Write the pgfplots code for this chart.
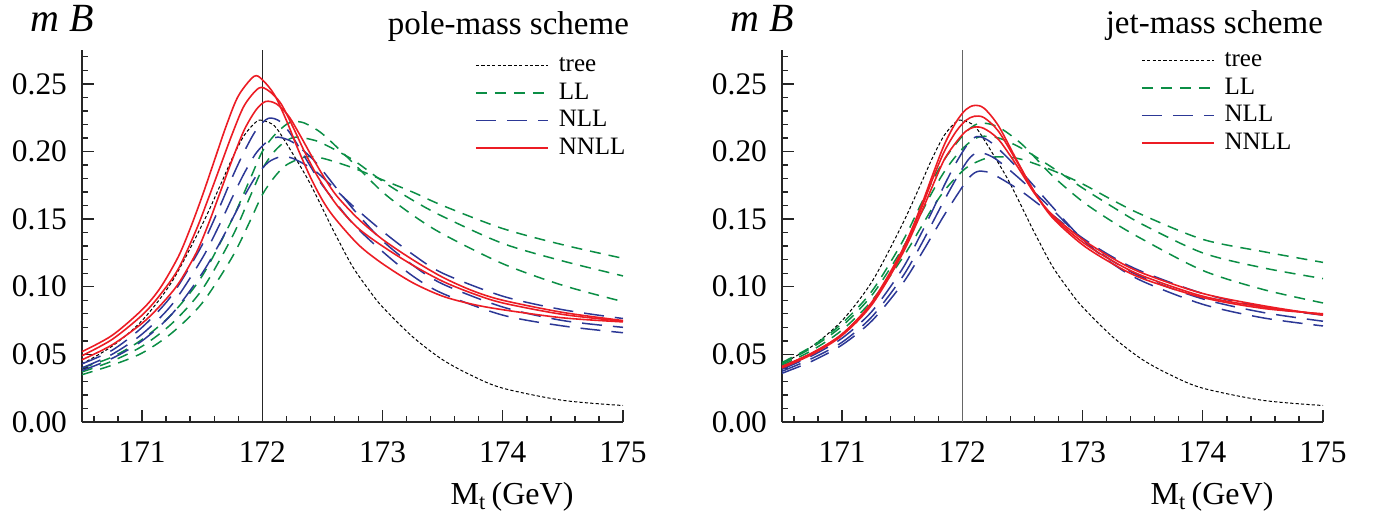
\documentclass[border=0pt]{standalone}
\usepackage{fontspec}
\setmainfont{Liberation Serif}
\usepackage{pgfplots}
\pgfplotsset{compat=1.18}

\definecolor{llgreen}{HTML}{0B8E45}
\definecolor{nllblue}{HTML}{2C3896}
\definecolor{nnllred}{HTML}{EC1C24}

\pgfplotsset{
  mbpanel/.style={
    scale only axis, width=270.5pt, height=186pt,
    xmin=170.5, xmax=175, ymin=0, ymax=0.275,
    enlargelimits=false, clip=false, no markers,
    axis x line*=bottom, axis y line*=left,
    axis line style={black!85, line width=0.75pt},
    every tick/.style={black!85, line width=0.7pt},
    tick align=inside,
    major tick length=6pt, minor tick length=3pt,
    xtick={171,172,173,174,175},
    minor xtick={170.6,170.8,...,175},
    ytick={0,0.05,0.1,0.15,0.2,0.25},
    minor ytick={0.01,0.02,...,0.27},
    /pgf/number format/assume math mode=true,
    yticklabel style={/pgf/number format/fixed, /pgf/number format/fixed zerofill, /pgf/number format/precision=2, xshift=-4pt},
    xticklabel style={/pgf/number format/fixed, /pgf/number format/precision=0, /pgf/number format/1000 sep={}, yshift=-6.5pt},
    tick label style={font=\fontsize{15.7}{18}\selectfont},
    legend cell align=left,
    legend image code/.code={\draw[#1] (0pt,0pt) -- (36pt,0pt);},
    legend style={draw=none, fill=none, inner sep=0pt,
      font=\fontsize{12.5}{14}\selectfont,
      nodes={inner sep=1pt, text height=9pt, text depth=2.75pt},
      row sep=0pt,
      /tikz/every odd column/.append style={column sep=4pt}},
  },
  treeS/.style={black, line width=0.5pt, dash pattern=on 1.6pt off 1.1pt, smooth},
  llS/.style={llgreen, line width=0.75pt, dash pattern=on 5.5pt off 4pt, smooth},
  nllS/.style={nllblue, line width=0.75pt, dash pattern=on 10pt off 5.5pt, smooth},
  nnllS/.style={nnllred, line width=0.8pt, smooth},
}

\begin{document}
\begin{tikzpicture}
\path[use as bounding box] (-41pt,-49.5pt) rectangle (655.5pt,211pt);

% ---------------- pole-mass scheme ----------------
\begin{axis}[mbpanel, at={(0pt,0pt)}, anchor=south west,
  legend style={at={(0.726,0.997)}, anchor=north west}]
  \addplot[black!85, line width=0.7pt, forget plot] coordinates {(172,0) (172,0.275)};
  \addplot[treeS] coordinates {(170.5,0.043) (170.75,0.056) (171,0.075) (171.25,0.104) (171.5,0.146) (171.65,0.175) (171.75,0.195) (171.85,0.212) (171.95,0.222) (172,0.2230) (172.1,0.219) (172.2,0.206) (172.375,0.180) (172.5,0.158) (172.6,0.140) (172.75,0.115) (172.9,0.096) (173,0.085) (173.25,0.063) (173.5,0.046) (173.75,0.034) (174,0.025) (174.5,0.016) (175,0.0122)};
  \addlegendentry{tree}
  \addplot[llS] coordinates {(170.5,0.040) (170.75,0.048) (171,0.061) (171.25,0.080) (171.5,0.108) (171.75,0.150) (171.9,0.180) (172,0.200) (172.1,0.212) (172.2,0.220) (172.26,0.222) (172.35,0.221) (172.5,0.213) (172.75,0.192) (173,0.170) (173.25,0.153) (173.5,0.139) (174,0.117) (174.5,0.101) (175,0.089)};
  \addlegendentry{LL}
  \addplot[llS, forget plot] coordinates {(170.5,0.037) (170.75,0.045) (171,0.056) (171.25,0.073) (171.5,0.098) (171.75,0.137) (171.9,0.167) (172,0.187) (172.1,0.200) (172.2,0.208) (172.28,0.2106) (172.4,0.209) (172.5,0.206) (172.75,0.194) (173,0.178) (173.25,0.164) (173.5,0.152) (174,0.132) (174.5,0.119) (175,0.108)};
  \addplot[llS, forget plot] coordinates {(170.5,0.035) (170.75,0.042) (171,0.051) (171.25,0.066) (171.5,0.088) (171.75,0.122) (171.9,0.149) (172,0.168) (172.1,0.181) (172.2,0.190) (172.36,0.196) (172.5,0.195) (172.75,0.188) (173,0.179) (173.25,0.170) (173.5,0.160) (174,0.143) (174.5,0.131) (175,0.121)};
  \addplot[nllS] coordinates {(170.5,0.043) (170.75,0.053) (171,0.070) (171.25,0.094) (171.5,0.131) (171.65,0.160) (171.75,0.181) (171.85,0.200) (171.95,0.216) (172.05,0.2245) (172.15,0.222) (172.25,0.211) (172.4,0.189) (172.5,0.175) (172.75,0.147) (173,0.126) (173.25,0.108) (173.5,0.095) (174,0.079) (174.5,0.071) (175,0.066)};
  \addlegendentry{NLL}
  \addplot[nllS, forget plot] coordinates {(170.5,0.040) (170.75,0.050) (171,0.065) (171.25,0.087) (171.5,0.121) (171.65,0.147) (171.75,0.166) (171.85,0.184) (171.95,0.199) (172.05,0.208) (172.13,0.2106) (172.25,0.207) (172.4,0.196) (172.5,0.186) (172.75,0.158) (173,0.134) (173.25,0.116) (173.5,0.102) (174,0.085) (174.5,0.075) (175,0.070)};
  \addplot[nllS, forget plot] coordinates {(170.5,0.038) (170.75,0.047) (171,0.060) (171.25,0.080) (171.5,0.110) (171.65,0.133) (171.75,0.150) (171.85,0.167) (171.95,0.182) (172.05,0.192) (172.15,0.196) (172.25,0.195) (172.4,0.188) (172.5,0.181) (172.75,0.160) (173,0.141) (173.25,0.124) (173.5,0.110) (174,0.093) (174.5,0.083) (175,0.0765)};
  \addplot[nnllS] coordinates {(170.5,0.052) (170.75,0.064) (171,0.083) (171.15,0.099) (171.3,0.122) (171.4,0.143) (171.5,0.167) (171.6,0.193) (171.7,0.219) (171.8,0.241) (171.93,0.2555) (172,0.253) (172.1,0.242) (172.2,0.223) (172.3,0.201) (172.4,0.181) (172.5,0.164) (172.6,0.151) (172.8,0.131) (173,0.117) (173.25,0.103) (173.5,0.093) (173.75,0.087) (174,0.083) (174.5,0.077) (175,0.074)};
  \addlegendentry{NNLL}
  \addplot[nnllS, forget plot] coordinates {(170.5,0.049) (170.75,0.061) (171,0.079) (171.15,0.094) (171.3,0.113) (171.45,0.142) (171.55,0.165) (171.65,0.189) (171.75,0.213) (171.85,0.234) (171.97,0.2468) (172.05,0.245) (172.15,0.236) (172.25,0.219) (172.35,0.200) (172.45,0.183) (172.55,0.169) (172.65,0.157) (172.8,0.143) (173,0.130) (173.25,0.116) (173.5,0.104) (173.75,0.095) (174,0.088) (174.5,0.0795) (175,0.0745)};
  \addplot[nnllS, forget plot] coordinates {(170.5,0.046) (170.75,0.057) (171,0.073) (171.15,0.086) (171.3,0.102) (171.45,0.125) (171.55,0.146) (171.65,0.170) (171.75,0.194) (171.85,0.216) (171.95,0.231) (172.03,0.237) (172.12,0.235) (172.22,0.226) (172.32,0.211) (172.42,0.195) (172.52,0.180) (172.62,0.167) (172.8,0.150) (173,0.135) (173.25,0.120) (173.5,0.107) (173.75,0.097) (174,0.090) (174.5,0.081) (175,0.075)};
  \node[font=\fontsize{20}{22}\selectfont\itshape] at (rel axis cs:-0.037,1.086) {m B};
  \node[font=\fontsize{16.5}{18}\selectfont, anchor=east] at (rel axis cs:1.024,1.062) {pole-mass scheme};
  \node[font=\fontsize{16}{18}\selectfont] at (rel axis cs:0.795,-0.2) {M\textsubscript{t}\,(GeV)};
\end{axis}

% ---------------- jet-mass scheme ----------------
\begin{axis}[mbpanel, at={(350pt,0pt)}, anchor=south west,
  legend style={at={(0.663,1.01)}, anchor=north west}]
  \addplot[black!60, line width=0.7pt, forget plot] coordinates {(172,0) (172,0.275)};
  \addplot[treeS] coordinates {(170.5,0.043) (170.75,0.056) (171,0.075) (171.25,0.104) (171.5,0.146) (171.65,0.175) (171.75,0.195) (171.85,0.212) (171.95,0.222) (172,0.2230) (172.1,0.219) (172.2,0.206) (172.375,0.180) (172.5,0.158) (172.6,0.140) (172.75,0.115) (172.9,0.096) (173,0.085) (173.25,0.063) (173.5,0.046) (173.75,0.034) (174,0.025) (174.5,0.016) (175,0.0122)};
  \addlegendentry{tree}
  \addplot[llS] coordinates {(170.5,0.044) (170.75,0.056) (171,0.073) (171.25,0.097) (171.5,0.133) (171.65,0.160) (171.75,0.178) (171.85,0.194) (171.95,0.206) (172.05,0.216) (172.15,0.221) (172.3,0.218) (172.5,0.205) (172.75,0.182) (173,0.163) (173.25,0.148) (173.5,0.135) (174,0.112) (174.5,0.098) (175,0.088)};
  \addlegendentry{LL}
  \addplot[llS, forget plot] coordinates {(170.5,0.043) (170.75,0.055) (171,0.071) (171.25,0.094) (171.5,0.128) (171.65,0.153) (171.75,0.170) (171.85,0.185) (171.95,0.197) (172.05,0.206) (172.15,0.211) (172.3,0.210) (172.5,0.202) (172.75,0.188) (173,0.173) (173.25,0.159) (173.5,0.146) (174,0.125) (174.5,0.114) (175,0.106)};
  \addplot[llS, forget plot] coordinates {(170.5,0.042) (170.75,0.053) (171,0.068) (171.25,0.090) (171.5,0.121) (171.65,0.143) (171.75,0.158) (171.85,0.171) (171.95,0.181) (172.05,0.189) (172.2,0.195) (172.35,0.196) (172.5,0.194) (172.75,0.186) (173,0.176) (173.25,0.164) (173.5,0.153) (174,0.135) (174.5,0.126) (175,0.118)};
  \addplot[nllS] coordinates {(170.5,0.039) (170.75,0.049) (171,0.062) (171.25,0.082) (171.5,0.113) (171.65,0.138) (171.75,0.156) (171.85,0.175) (171.95,0.192) (172.05,0.206) (172.12,0.211) (172.2,0.209) (172.3,0.202) (172.5,0.184) (172.75,0.159) (173,0.135) (173.25,0.117) (173.5,0.104) (174,0.087) (174.5,0.077) (175,0.071)};
  \addlegendentry{NLL}
  \addplot[nllS, forget plot] coordinates {(170.5,0.0375) (170.75,0.047) (171,0.059) (171.25,0.078) (171.5,0.107) (171.65,0.130) (171.75,0.147) (171.85,0.164) (171.95,0.180) (172.05,0.194) (172.12,0.199) (172.2,0.198) (172.3,0.193) (172.5,0.178) (172.75,0.157) (173,0.135) (173.25,0.119) (173.5,0.107) (174,0.091) (174.5,0.081) (175,0.0745)};
  \addplot[nllS, forget plot] coordinates {(170.5,0.036) (170.75,0.045) (171,0.057) (171.25,0.075) (171.5,0.102) (171.65,0.123) (171.75,0.138) (171.85,0.153) (171.95,0.167) (172.05,0.180) (172.12,0.185) (172.2,0.185) (172.3,0.181) (172.5,0.170) (172.75,0.153) (173,0.136) (173.25,0.122) (173.5,0.111) (174,0.095) (174.5,0.085) (175,0.079)};
  \addplot[nnllS] coordinates {(170.5,0.041) (170.75,0.051) (171,0.065) (171.25,0.089) (171.5,0.127) (171.65,0.158) (171.75,0.182) (171.85,0.205) (171.95,0.222) (172.03,0.231) (172.1,0.234) (172.18,0.232) (172.3,0.219) (172.45,0.194) (172.6,0.170) (172.75,0.151) (173,0.131) (173.25,0.117) (173.5,0.106) (174,0.092) (174.5,0.084) (175,0.080)};
  \addlegendentry{NNLL}
  \addplot[nnllS, forget plot] coordinates {(170.5,0.041) (170.75,0.051) (171,0.065) (171.25,0.088) (171.5,0.126) (171.65,0.156) (171.75,0.179) (171.85,0.200) (171.95,0.215) (172.03,0.223) (172.1,0.226) (172.18,0.225) (172.3,0.215) (172.45,0.193) (172.6,0.170) (172.75,0.152) (173,0.133) (173.25,0.119) (173.5,0.108) (174,0.093) (174.5,0.085) (175,0.0795)};
  \addplot[nnllS, forget plot] coordinates {(170.5,0.040) (170.75,0.050) (171,0.064) (171.25,0.087) (171.5,0.124) (171.65,0.153) (171.75,0.174) (171.85,0.194) (171.95,0.207) (172.03,0.215) (172.1,0.218) (172.18,0.217) (172.3,0.209) (172.45,0.190) (172.6,0.169) (172.75,0.153) (173,0.135) (173.25,0.121) (173.5,0.110) (174,0.095) (174.5,0.086) (175,0.079)};
  \node[font=\fontsize{20}{22}\selectfont\itshape] at (rel axis cs:-0.037,1.086) {m B};
  \node[font=\fontsize{16.5}{18}\selectfont, anchor=east] at (rel axis cs:1.013,1.067) {jet-mass scheme};
  \node[font=\fontsize{16}{18}\selectfont] at (rel axis cs:0.795,-0.2) {M\textsubscript{t}\,(GeV)};
\end{axis}
\end{tikzpicture}
\end{document}
